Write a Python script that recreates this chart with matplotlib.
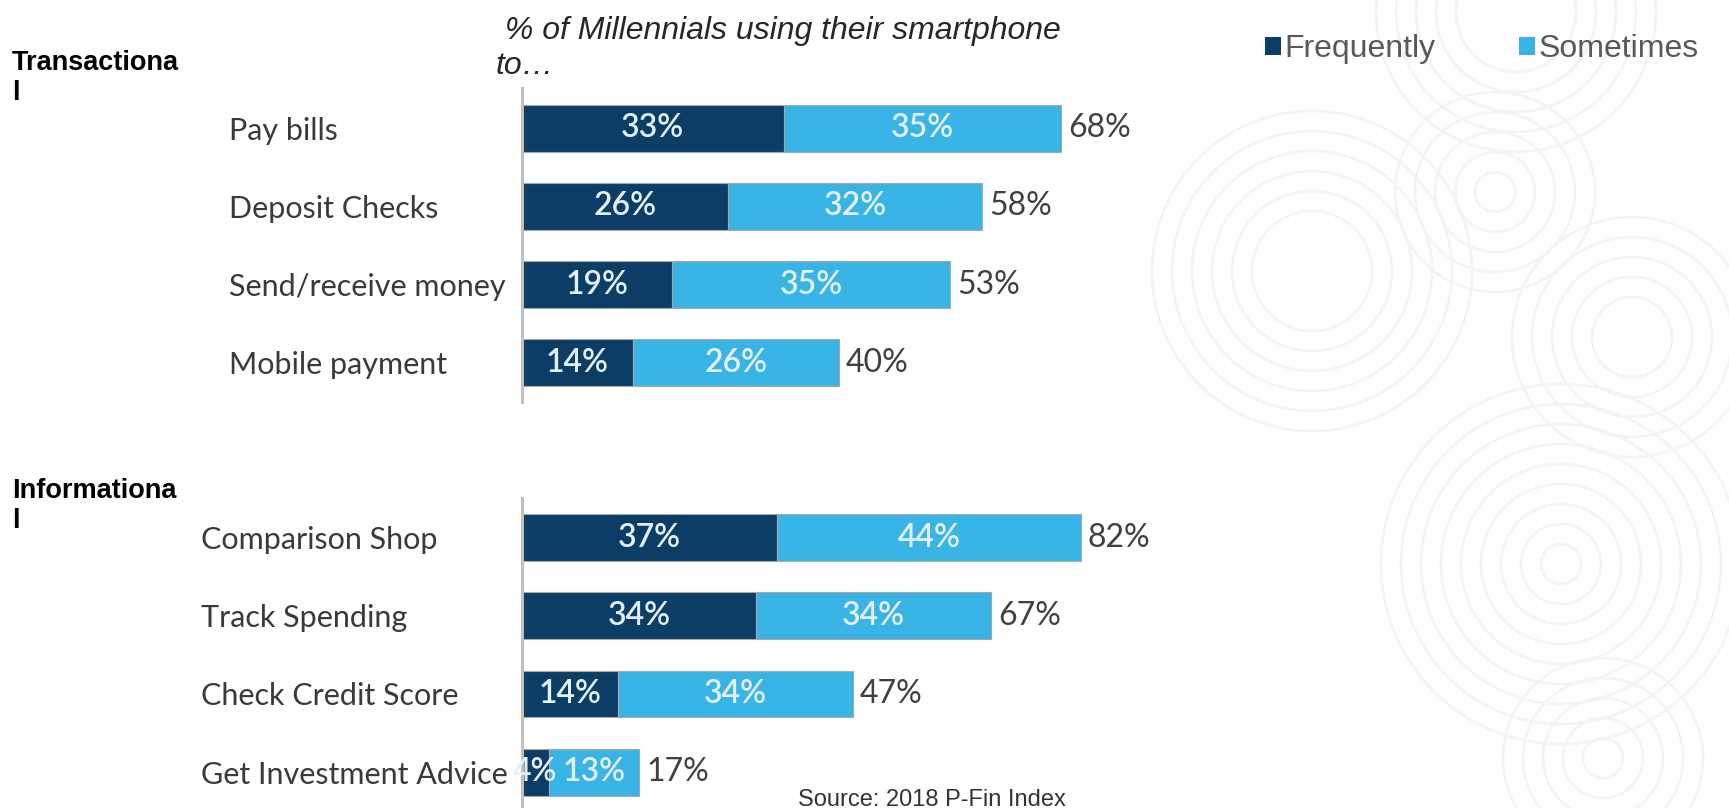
import matplotlib
matplotlib.use('Agg')
import matplotlib.pyplot as plt
from matplotlib.patches import Circle

# Transactional uses
trans_cats = ['Pay bills', 'Deposit Checks', 'Send/receive money', 'Mobile payment']
trans_freq = [33, 26, 19, 14]
trans_some = [35, 32, 35, 26]
trans_total = [68, 58, 53, 40]

# Informational uses
info_cats = ['Comparison Shop', 'Track Spending', 'Check Credit Score',
             'Get Investment Advice']
info_freq = [37, 34, 14, 4]
info_some = [44, 34, 34, 13]
info_total = [82, 67, 47, 17]

series_names = ['Frequently', 'Sometimes']
DARK = '#0c3d66'
LIGHT = '#38b4e6'

W, H = 1729, 808
plt.rcParams['font.family'] = ['Lato', 'DejaVu Sans']


def fx(px):
    return px / W


def fy(py):
    return 1 - py / H


fig = plt.figure(figsize=(W / 100, H / 100), dpi=100)
fig.patch.set_facecolor('white')

# faint concentric rings in the background
bg = fig.add_axes([0, 0, 1, 1], zorder=-1)
bg.set_xlim(0, W)
bg.set_ylim(H, 0)
bg.axis('off')
rings = [((1312, 271), range(60, 161, 20)),
         ((1495, 192), range(20, 101, 20)),
         ((1632, 337), range(40, 121, 20)),
         ((1561, 564), range(20, 181, 20)),
         ((1603, 758), range(20, 101, 20)),
         ((1516, 12), range(60, 141, 20))]
for (cx, cy), radii in rings:
    for r in radii:
        bg.add_patch(Circle((cx, cy), r, fill=False,
                            edgecolor='#f4f4f4', linewidth=2))


def draw_panel(top_px, bottom_px, cats, freq, some, total, xmax, label_x, ylim):
    ax_left = 521.6
    ax_w = 635
    ax = fig.add_axes([fx(ax_left), fy(bottom_px), ax_w / W,
                       (bottom_px - top_px) / H])
    ax.set_facecolor('none')
    y = list(range(len(cats)))
    b1 = ax.barh(y, freq, height=0.6, color=DARK, edgecolor='#a8a8a8',
                 linewidth=0.8, label=series_names[0])
    b2 = ax.barh(y, some, left=freq, height=0.6, color=LIGHT,
                 edgecolor='#a8a8a8', linewidth=0.8, label=series_names[1])
    seg_style = dict(label_type='center', color='#e4f1fa', fontsize=23,
                     fontweight='semibold')
    ax.bar_label(b1, labels=[f'{v}%' for v in freq], **seg_style)
    ax.bar_label(b2, labels=[f'{v}%' for v in some], **seg_style)
    ax.bar_label(b2, labels=[f'{v}%' for v in total], padding=5,
                 color='#404040', fontsize=23)
    ax.set_xlim(0, xmax)
    ax.set_ylim(*ylim)
    ax.set_xticks([])
    ax.set_yticks(y, cats, ha='left', color='#3a3a3a', fontsize=22)
    ax.tick_params(axis='y', length=0, pad=(ax_left - label_x) * 0.72)
    for side in ['top', 'right', 'bottom']:
        ax.spines[side].set_visible(False)
    ax.spines['left'].set_color('#bfbfbf')
    ax.spines['left'].set_linewidth(2.2)
    return b1, b2


b1, b2 = draw_panel(88, 402, trans_cats, trans_freq, trans_some, trans_total,
                    80, 229, (3.5, -0.515))
draw_panel(498, 808, info_cats, info_freq, info_some, info_total,
           92, 201, (3.46, -0.51))

# section headers (the wrapped last letter sits on its own line)
head = dict(family='Liberation Sans', weight='bold', fontsize=19.5,
            color='black', va='baseline')
fig.text(fx(12), fy(70), 'Transactiona', **head)
fig.text(fx(12), fy(100), 'l', **head)
fig.text(fx(12), fy(498), 'Informationa', **head)
fig.text(fx(12), fy(528), 'l', **head)

# title
title = dict(family='Liberation Sans', style='italic', fontsize=23,
             color='#262626', va='baseline')
fig.text(fx(496), fy(39), ' % of Millennials using their smartphone', **title)
fig.text(fx(496), fy(74), 'to\u2026', **title)

# legend
fig.legend(handles=[b1, b2], labels=series_names, ncol=2, frameon=False,
           loc='center left', bbox_to_anchor=(fx(1265), fy(49)),
           borderpad=0, borderaxespad=0, handlelength=0.5,
           handleheight=0.5, handletextpad=0.12, columnspacing=2.6,
           prop={'family': 'Liberation Sans', 'size': 23},
           labelcolor='#595959')
for h in fig.legends[0].legend_handles:
    h.set_edgecolor('none')

# source
fig.text(fx(798), fy(806), 'Source: 2018 P-Fin Index',
         family='Liberation Sans', fontsize=17, color='#333333',
         va='baseline')

fig.savefig('out.png', dpi=100)
